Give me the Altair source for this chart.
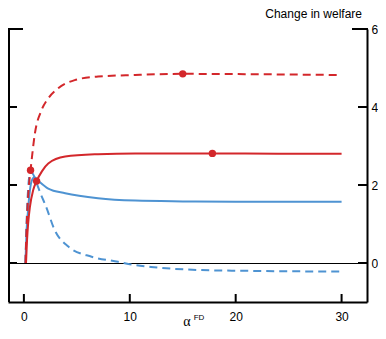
import altair as alt
import pandas as pd

# ---- data ----
red_solid_x = [0.2, 0.3, 0.4, 0.57, 0.88, 1.2, 1.7, 2.3, 3.9, 7.0, 10.5, 17.8, 24, 30]
red_solid_y = [0.0, 0.6, 1.0, 1.44, 1.87, 2.1, 2.35, 2.55, 2.73, 2.79, 2.81, 2.81, 2.8, 2.8]

red_dash_x = [0.15, 0.3, 0.45, 0.63, 1.04, 1.67, 2.3, 3.24, 4.8, 7.0, 10.5, 15, 22, 30]
red_dash_y = [0.0, 1.2, 1.9, 2.38, 3.32, 3.92, 4.22, 4.48, 4.69, 4.78, 4.82, 4.85, 4.84, 4.82]

blue_solid_x = [0.15, 0.25, 0.35, 0.57, 0.8, 1.0, 1.4, 2.3, 3.9, 7.0, 10.5, 15, 20, 30]
blue_solid_y = [0.0, 0.8, 1.2, 1.87, 2.15, 2.2, 2.1, 1.91, 1.79, 1.66, 1.6, 1.58, 1.57, 1.57]

blue_dash_x = [0.15, 0.25, 0.4, 0.6, 0.8, 1.2, 1.5, 2.1, 2.9, 4.2, 6.4, 8.9, 10, 12, 16.6, 20.7, 30]
blue_dash_y = [0.0, 1.0, 1.9, 2.32, 2.3, 2.05, 1.83, 1.44, 0.85, 0.42, 0.16, 0.03, -0.03, -0.1, -0.18, -0.2, -0.22]

dot_x = [0.63, 1.2, 15, 17.8]
dot_y = [2.38, 2.1, 4.85, 2.81]

x_ticks = [0, 10, 20, 30]
y_ticks = [0, 2, 4, 6]

RED = "#d3272b"
BLUE = "#4e93d2"
W, H = 359, 273
XDOM = [-1.5, 32.4]
YDOM = [-1, 6]

def series(xs, ys, name):
    return pd.DataFrame({"x": xs, "y": ys, "s": name})

xs = alt.Scale(domain=XDOM, nice=False, zero=False)
ys = alt.Scale(domain=YDOM, nice=False, zero=False)

xax = alt.Axis(values=x_ticks, orient="bottom", ticks=False, grid=False, domain=True,
               domainColor="black", domainWidth=2, labelFontSize=12, labelColor="black",
               labelPadding=9, labelFont="Liberation Sans", title=None)
yax = alt.Axis(values=y_ticks, orient="right", ticks=False, grid=False, domain=True,
               domainColor="black", domainWidth=2, labelFontSize=12, labelColor="black",
               labelPadding=4, labelFont="Liberation Sans", title=None)

zero = alt.Chart(pd.DataFrame({"y": [0]})).mark_rule(color="black", strokeWidth=1, yOffset=0.5).encode(
    y=alt.Y("y:Q", scale=ys, axis=yax), x=alt.value(0), x2=alt.value(W))

def line(df, color, dash=None):
    kw = dict(color=color, strokeWidth=2, interpolate="monotone")
    if dash:
        kw["strokeDash"] = dash
    return alt.Chart(df).mark_line(**kw).encode(
        x=alt.X("x:Q", scale=xs, axis=xax), y=alt.Y("y:Q", scale=ys, axis=yax))

bd = line(series(blue_dash_x, blue_dash_y, "bd"), BLUE, [8, 5])
bs = line(series(blue_solid_x, blue_solid_y, "bs"), BLUE)
rd = line(series(red_dash_x, red_dash_y, "rd"), RED, [8, 5])
rs = line(series(red_solid_x, red_solid_y, "rs"), RED)

dots = alt.Chart(pd.DataFrame({"x": dot_x, "y": dot_y})).mark_circle(
    color=RED, opacity=1, size=55).encode(
    x=alt.X("x:Q", scale=xs, axis=xax), y=alt.Y("y:Q", scale=ys, axis=yax))

# frame: left spine, inward ticks, top corners
left_spine = alt.Chart(pd.DataFrame({"a": [0]})).mark_rule(color="black", strokeWidth=2).encode(
    x=alt.value(1), y=alt.value(0), y2=alt.value(H))
xt = alt.Chart(pd.DataFrame({"x": x_ticks})).mark_rule(color="black", strokeWidth=2).encode(
    x=alt.X("x:Q", scale=xs, axis=xax), y=alt.value(H), y2=alt.value(H - 8))
yt_df = pd.DataFrame({"y": y_ticks[:-1]})
ytr = alt.Chart(yt_df).mark_rule(color="black", strokeWidth=2).encode(
    y=alt.Y("y:Q", scale=ys, axis=yax), x=alt.value(W - 9), x2=alt.value(W))
ytl = alt.Chart(yt_df).mark_rule(color="black", strokeWidth=2).encode(
    y=alt.Y("y:Q", scale=ys, axis=yax), x=alt.value(0), x2=alt.value(9))
corner_l = alt.Chart(pd.DataFrame({"a": [0]})).mark_rule(color="black", strokeWidth=2).encode(
    x=alt.value(0), x2=alt.value(15), y=alt.value(0))
corner_r = alt.Chart(pd.DataFrame({"a": [0]})).mark_rule(color="black", strokeWidth=2).encode(
    x=alt.value(W - 15), x2=alt.value(W + 1), y=alt.value(0))

title = alt.Chart(pd.DataFrame({"t": ["Change in welfare"]})).mark_text(
    align="right", baseline="middle", fontSize=12, font="Liberation Sans", color="black").encode(
    text="t:N", x=alt.value(W - 5), y=alt.value(-15))
alpha = alt.Chart(pd.DataFrame({"t": ["α"]})).mark_text(
    align="center", baseline="alphabetic", fontSize=14, font="Liberation Serif", color="black").encode(
    text="t:N", x=alt.value(179), y=alt.value(H + 24))
fd = alt.Chart(pd.DataFrame({"t": ["FD"]})).mark_text(
    align="center", baseline="middle", fontSize=8, font="Liberation Sans", color="black").encode(
    text="t:N", x=alt.value(191), y=alt.value(H + 16))

chart = alt.layer(zero, bd, bs, rd, rs, dots, left_spine, xt, ytr, ytl, corner_l, corner_r,
                  title, alpha, fd).properties(
    width=W, height=H,
    autosize=alt.AutoSizeParams(type="none"),
    padding={"left": 0, "top": 21, "right": 11, "bottom": 29},
).configure_view(stroke=None)

chart.save("out.html", embed_options={"renderer": "svg", "actions": False})
